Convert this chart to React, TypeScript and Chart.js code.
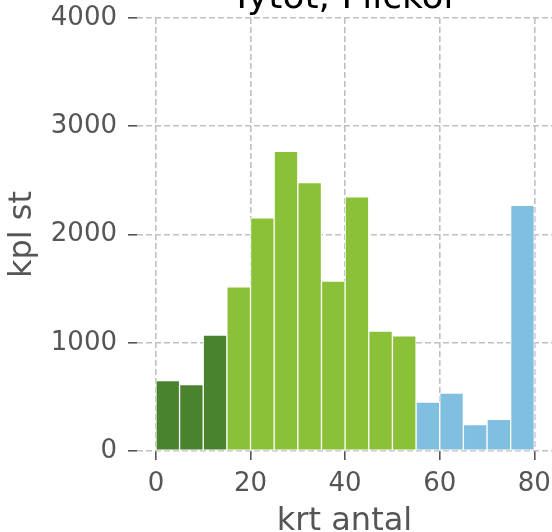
import React, { useEffect, useRef } from "react";
import { Chart, registerables } from "chart.js";

Chart.register(...registerables);

// Histogram bins (left edges), width 5
const binStarts = [0, 5, 10, 15, 20, 25, 30, 35, 40, 45, 50, 55, 60, 65, 70, 75];
const binWidth = 5;
const counts = [650, 613, 1070, 1517, 2155, 2769, 2479, 1570, 2347, 1107, 1064, 453, 534, 243, 293, 2269];
// group of each bin: 0 = dark green, 1 = light green, 2 = blue
const binGroups = [0, 0, 0, 1, 1, 1, 1, 1, 1, 1, 1, 2, 2, 2, 2, 2];
const groupColors = ["#4a832d", "#8bc139", "#80bfe0"];

const titleText = "Tytöt, Flickor";
const xLabel = "krt antal";
const yLabel = "kpl st";
const xTicks = [0, 20, 40, 60, 80];
const yTicks = [0, 1000, 2000, 3000, 4000];

const FONT = "'DejaVu Sans', sans-serif";

export default function App() {
  const ref = useRef<HTMLCanvasElement | null>(null);

  useEffect(() => {
    if (!ref.current) return;
    const titlePlugin = {
      id: "cutTitle",
      afterDraw(chart: any) {
        const { ctx, chartArea } = chart;
        ctx.save();
        ctx.font = `36px ${FONT}`;
        ctx.fillStyle = "#000000";
        ctx.textAlign = "center";
        ctx.textBaseline = "alphabetic";
        ctx.fillText(titleText, (chartArea.left + chartArea.right) / 2, 8);
        ctx.restore();
      },
    };

    const gridOpts = {
      color: "#c0c0c0",
      lineWidth: 1.6,
      offset: false,
      drawTicks: true,
      tickLength: 9,
      tickColor: "#555555",
      tickWidth: 1.6,
      tickBorderDash: [],
    };

    const chart = new Chart(ref.current, {
      type: "bar",
      data: {
        datasets: [
          {
            data: binStarts.map((s, i) => ({ x: s + binWidth / 2, y: counts[i] })),
            backgroundColor: binGroups.map((g) => groupColors[g]),
            borderColor: "#ffffff",
            borderWidth: 1,
            borderSkipped: false,
            barPercentage: 1,
            categoryPercentage: 1,
          } as any,
        ],
      },
      options: {
        animation: false,
        responsive: false,
        maintainAspectRatio: false,
        layout: { padding: { top: 18, left: 0, right: 0, bottom: 0 } },
        plugins: {
          legend: { display: false },
          tooltip: { enabled: false },
          title: { display: false },
        },
        scales: {
          x: {
            type: "linear",
            min: -4,
            max: 83.74,
            offset: false,
            z: 1,
            afterFit: (s: any) => {
              s.height = 81;
              s.paddingLeft = 0;
              s.paddingRight = 0;
            },
            afterBuildTicks: (s: any) => {
              s.ticks = xTicks.map((v) => ({ value: v }));
            },
            border: { display: false, dash: [6, 3] },
            grid: gridOpts,
            ticks: {
              includeBounds: false,
              padding: 9,
              color: "#555555",
              font: { family: FONT, size: 26 },
              maxRotation: 0,
              callback: (v: any) => String(v),
            },
            title: {
              display: true,
              text: xLabel,
              color: "#555555",
              font: { family: FONT, size: 32, lineHeight: "20px" },
              padding: { top: 0, bottom: 0 },
            },
          },
          y: {
            type: "linear",
            min: 0,
            max: 4000,
            z: 1,
            afterFit: (s: any) => {
              s.width = 137;
              s.paddingTop = 0;
              s.paddingBottom = 0;
            },
            afterBuildTicks: (s: any) => {
              s.ticks = yTicks.map((v) => ({ value: v }));
            },
            border: { display: false, dash: [6, 3] },
            grid: gridOpts,
            ticks: {
              padding: 11,
              color: "#555555",
              font: { family: FONT, size: 26 },
              callback: (v: any) => String(v),
            },
            title: {
              display: true,
              text: yLabel,
              color: "#555555",
              font: { family: FONT, size: 32, lineHeight: "28px" },
              padding: { top: 9, bottom: 0 },
            },
          },
        },
      },
      plugins: [titlePlugin],
    });
    return () => chart.destroy();
  }, []);

  return (
    <div style={{ position: "fixed", left: 0, top: 0, width: 552, height: 532, background: "#ffffff" }}>
      <canvas ref={ref} width={552} height={532} style={{ display: "block", width: 552, height: 532 }} />
    </div>
  );
}
